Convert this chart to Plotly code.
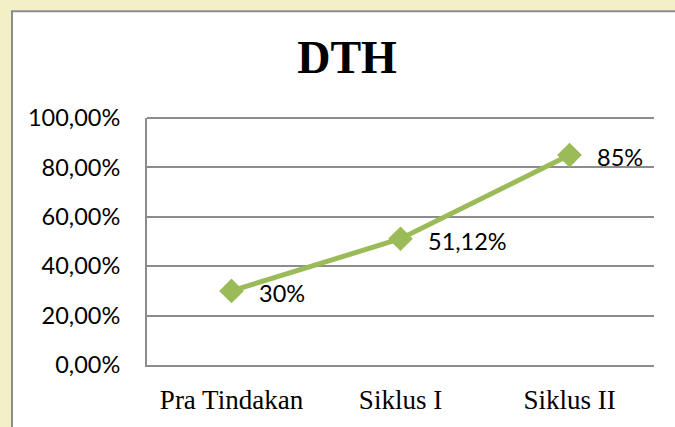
import plotly.graph_objects as go

categories = ["Pra Tindakan", "Siklus I", "Siklus II"]
values = [30.0, 51.12, 85.0]
value_labels = ["30%", "51,12%", "85%"]
tick_vals = [0, 20, 40, 60, 80, 100]
tick_text = ["0,00%", "20,00%", "40,00%", "60,00%", "80,00%", "100,00%"]

GREEN = "#9bbb59"
GRID = "#8c8c8c"

fig = go.Figure()
fig.add_trace(go.Scatter(
    x=categories, y=values, mode="lines+markers",
    line=dict(color=GREEN, width=5),
    marker=dict(symbol="diamond", size=19, color=GREEN),
    showlegend=False, hoverinfo="skip",
))

for c, v, t in zip(categories, values, value_labels):
    fig.add_annotation(x=c, y=v, text=t, showarrow=False, xanchor="left",
                       yanchor="middle", xshift=25, yshift=-2,
                       font=dict(family="Lato", size=23.5, color="#000000"))

# white chart box on textured paper
fig.add_shape(type="rect", xref="paper", yref="paper",
              x0=-135/507, x1=1.2, y0=-0.5, y1=(368-10)/250,
              fillcolor="white", line=dict(color=GRID, width=2), layer="below")

# top gridline (top edge of the plot area, value 100%)
fig.add_shape(type="line", xref="paper", yref="paper", x0=0, x1=1,
              y0=1, y1=1, line=dict(color=GRID, width=2), layer="below")

fig.update_layout(
    width=675, height=427,
    margin=dict(l=147, r=21, t=118, b=59),
    paper_bgcolor="#f3efc6",
    plot_bgcolor="rgba(0,0,0,0)",
    title=dict(text="<b>DTH</b>", x=347/675, xanchor="center", xref="container",
               y=1 - 57/427, yanchor="middle",
               font=dict(family="Liberation Serif", size=46, color="#000000")),
    xaxis=dict(
        type="category", range=[-0.5, 2.5],
        showgrid=False, showline=True, linecolor=GRID, linewidth=2,
        ticks="", ticklabelstandoff=10,
        tickfont=dict(family="Liberation Serif", size=27, color="#000000"),
        fixedrange=True,
    ),
    yaxis=dict(
        range=[0, 100], tickvals=tick_vals, ticktext=tick_text,
        showgrid=True, gridcolor=GRID, gridwidth=2,
        showline=True, linecolor=GRID, linewidth=2,
        zeroline=False, ticks="", ticklabelstandoff=20,
        tickfont=dict(family="Lato", size=23.5, color="#000000"),
        fixedrange=True,
    ),
)

fig.write_html("out.html", config={"displayModeBar": False},
               post_script="document.body.style.margin='0';document.body.style.overflow='hidden';")
